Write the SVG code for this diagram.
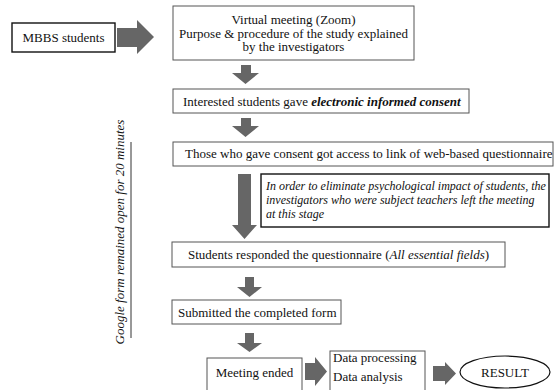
<svg xmlns="http://www.w3.org/2000/svg" width="554" height="390" viewBox="0 0 554 390">
<style>
text{font-family:'Liberation Serif','Times New Roman',Tinos,'DejaVu Serif',serif;font-size:13px;fill:#111}
.box{fill:#fff;stroke:#555;stroke-width:1}
.bold{fill:#fff;stroke:#111;stroke-width:1.4}
.arr{fill:#666;stroke:none}
.it{font-style:italic}
.sm{font-size:12px}
</style>
<rect width="554" height="390" fill="#fff"/>
<g id="connectors">
<polygon class="arr" points="117,28 137,28 137,20 154,37 137,54 137,47 117,47"/>
<polygon class="arr" points="241,65 251,65 251,73 259,73 245.5,84 232,73 241,73"/>
<polygon class="arr" points="241,118 251,118 251,126 259,126 245.5,137 232,126 241,126"/>
<polygon class="arr" points="238,174 251,174 251,225 257,225 244.5,239 232,225 238,225"/>
<polygon class="arr" points="245,277 254,277 254,287 262,287 249.5,297 237,287 245,287"/>
<polygon class="arr" points="245,333 254,333 254,343 262,343 249.5,352 237,343 245,343"/>
<polygon class="arr" points="305,363 315,363 315,357 327,371.5 315,386 315,380 305,380"/>
<polygon class="arr" points="433,366 445,366 445,362 456,373.5 445,385 445,381 433,381"/>
</g>
<g id="mbbs">
<rect class="bold" x="12" y="23" width="103" height="29"/>
<text x="63.5" y="42" text-anchor="middle">MBBS students</text>
</g>
<g id="virtual-meeting">
<rect class="box" x="173" y="6" width="241" height="54"/>
<text x="293.5" y="24" text-anchor="middle">Virtual meeting (Zoom)</text>
<text x="293.5" y="37.5" text-anchor="middle">Purpose &amp; procedure of the study explained</text>
<text x="293.5" y="51" text-anchor="middle">by the investigators</text>
</g>
<g id="consent">
<rect class="box" x="173" y="89" width="296" height="24"/>
<text x="183" y="105.5">Interested students gave <tspan font-weight="bold" font-style="italic">electronic informed consent</tspan></text>
</g>
<g id="access">
<rect class="box" x="173" y="142" width="380" height="24"/>
<text x="185" y="158">Those who gave consent got access to link of web-based questionnaire</text>
</g>
<g id="note">
<rect class="bold" x="261" y="174" width="288" height="53"/>
<text class="it sm" x="266" y="190">In order to eliminate psychological impact of students, the</text>
<text class="it sm" x="266" y="204">investigators who were subject teachers left the meeting</text>
<text class="it sm" x="266" y="218">at this stage</text>
</g>
<g id="responded">
<rect class="box" x="172" y="242" width="333" height="25"/>
<text x="188" y="259">Students responded the questionnaire (<tspan font-style="italic">All essential fields</tspan>)</text>
</g>
<g id="submitted">
<rect class="box" x="172" y="300" width="169" height="24"/>
<text x="178" y="317">Submitted the completed form</text>
</g>
<g id="meeting-ended">
<rect class="box" x="207" y="358" width="95" height="40"/>
<text x="254.5" y="377" text-anchor="middle">Meeting ended</text>
</g>
<g id="data">
<rect class="box" x="330" y="351" width="95" height="47"/>
<text x="333" y="362">Data processing</text>
<text x="333" y="381">Data analysis</text>
</g>
<g id="result">
<ellipse cx="505" cy="372" rx="45" ry="16" fill="#fff" stroke="#111" stroke-width="1.2"/>
<text x="505" y="377" text-anchor="middle">RESULT</text>
</g>
<g id="timing">
<line x1="131" y1="142" x2="131" y2="338" stroke="#333" stroke-width="1"/>
<text class="it" transform="translate(124,232) rotate(-90)" text-anchor="middle">Google form remained open for 20 minutes</text>
</g>
</svg>
